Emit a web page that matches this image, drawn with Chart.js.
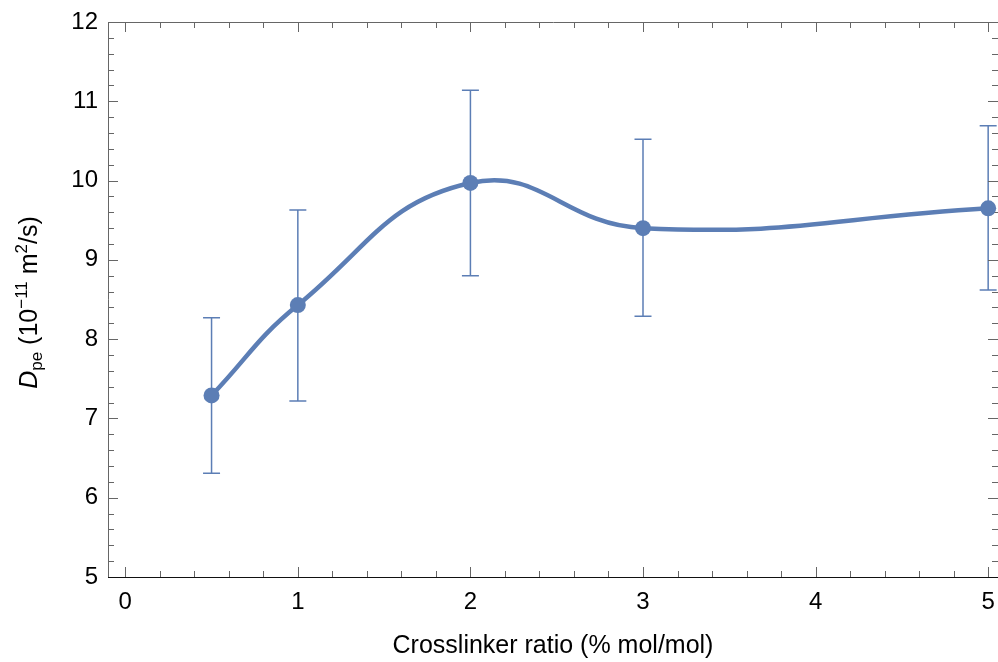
<!DOCTYPE html>
<html lang="en">
<head>
<meta charset="UTF-8">
<title>Dpe vs crosslinker ratio</title>
<script src="https://cdn.jsdelivr.net/npm/chart.js"></script>
<style>
  body { margin: 0; background: #fff; }
  #wrap { width: 998px; height: 662px; }
</style>
</head>
<body>
<div id="wrap"><canvas id="myChart"></canvas></div>

<script>
  // values
  const ratio = [0.5, 1, 2, 3, 5];
  const dpe = [7.29, 8.43, 9.97, 9.40, 9.65];
  const errHigh = [8.27, 9.63, 11.14, 10.52, 10.69];
  const errLow = [6.31, 7.22, 8.80, 8.29, 8.62];
  const xTicks = [0, 1, 2, 3, 4, 5];
  const yTicks = [5, 6, 7, 8, 9, 10, 11, 12];

  const blue = 'rgb(92,126,181)';
  const font = "'Liberation Sans', Arial, sans-serif";

  // error bars, drawn under the line
  const errorBars = {
    id: 'errorBars',
    beforeDatasetsDraw(chart) {
      const { ctx, scales: { x, y } } = chart;
      ctx.save();
      ctx.strokeStyle = blue;
      ctx.lineWidth = 1.5;
      ratio.forEach((r, i) => {
        const px = x.getPixelForValue(r);
        const hi = y.getPixelForValue(errHigh[i]);
        const lo = y.getPixelForValue(errLow[i]);
        ctx.beginPath();
        ctx.moveTo(px, hi); ctx.lineTo(px, lo);
        ctx.moveTo(px - 8.5, hi); ctx.lineTo(px + 8.5, hi);
        ctx.moveTo(px - 8.5, lo); ctx.lineTo(px + 8.5, lo);
        ctx.stroke();
      });
      ctx.restore();
    }
  };

  // frame with inward major/minor ticks on all four sides
  const frame = {
    id: 'frame',
    beforeDatasetsDraw(chart) {
      const { ctx, chartArea: a, scales: { x, y } } = chart;
      ctx.save();
      ctx.lineWidth = 1;
      ctx.strokeStyle = '#666';
      ctx.beginPath();
      for (let i = Math.ceil(x.min * 5); i <= Math.floor(x.max * 5); i++) {
        const len = i % 5 === 0 ? 10 : 6;
        const px = Math.round(x.getPixelForValue(i / 5)) + 0.5;
        ctx.moveTo(px, a.bottom); ctx.lineTo(px, a.bottom - len);
        ctx.moveTo(px, a.top); ctx.lineTo(px, a.top + len);
      }
      for (let i = Math.ceil(y.min * 5); i <= Math.floor(y.max * 5); i++) {
        const len = i % 5 === 0 ? 10 : 6;
        const py = Math.round(y.getPixelForValue(i / 5)) + 0.5;
        ctx.moveTo(a.left, py); ctx.lineTo(a.left + len, py);
        ctx.moveTo(a.right, py); ctx.lineTo(a.right - len, py);
      }
      ctx.stroke();

      // right edge of the frame sits just past the canvas, as in the figure
      ctx.beginPath();
      ctx.moveTo(a.left + 0.5, a.bottom); ctx.lineTo(a.left + 0.5, a.top + 0.5);
      ctx.lineTo(a.right + 0.5, a.top + 0.5); ctx.lineTo(a.right + 0.5, a.bottom);
      ctx.stroke();
      ctx.strokeStyle = '#111';
      ctx.beginPath();
      ctx.moveTo(a.left, a.bottom + 0.5); ctx.lineTo(a.right, a.bottom + 0.5);
      ctx.stroke();
      ctx.restore();
    }
  };

  // y title with italic D, subscript and superscripts
  const yTitle = {
    id: 'yTitle',
    afterDraw(chart) {
      const ctx = chart.ctx;
      const parts = [
        { t: 'D', size: 25, style: 'italic ', dy: 0 },
        { t: 'pe', size: 17, dy: 5 },
        { t: ' (10', size: 25, dy: 0 },
        { t: '\u221211', size: 17, dy: -10 },
        { t: ' m', size: 25, dy: 0 },
        { t: '2', size: 17, dy: -10 },
        { t: '/s)', size: 25, dy: 0 }
      ];
      ctx.save();
      let w = 0;
      parts.forEach(p => {
        ctx.font = (p.style || '') + p.size + 'px ' + font;
        p.w = ctx.measureText(p.t).width;
        w += p.w;
      });
      const cy = (chart.chartArea.top + chart.chartArea.bottom) / 2 + 3;
      ctx.translate(37, cy);
      ctx.rotate(-Math.PI / 2);
      ctx.fillStyle = '#000';
      ctx.textAlign = 'left';
      ctx.textBaseline = 'alphabetic';
      let cx = -w / 2;
      parts.forEach(p => {
        ctx.font = (p.style || '') + p.size + 'px ' + font;
        ctx.fillText(p.t, cx, p.dy);
        cx += p.w;
      });
      ctx.restore();
    }
  };

  const ctx = document.getElementById('myChart');

  new Chart(ctx, {
    type: 'scatter',
    data: {
      datasets: [{
        label: 'Dpe',
        data: ratio.map((r, i) => ({ x: r, y: dpe[i] })),
        showLine: true,
        tension: 0.45,
        borderColor: blue,
        borderWidth: 4.5,
        backgroundColor: blue,
        pointRadius: 8,
        pointHoverRadius: 8,
        pointBorderWidth: 0,
        clip: false
      }]
    },
    options: {
      responsive: true,
      maintainAspectRatio: false,
      animation: false,
      layout: { autoPadding: false, padding: { top: 22, right: 0, left: 0, bottom: 0 } },
      plugins: {
        legend: { display: false },
        tooltip: { enabled: false }
      },
      scales: {
        x: {
          type: 'linear',
          min: -0.1,
          max: 5.057,
          afterBuildTicks: (scale) => { scale.ticks = xTicks.map(v => ({ value: v })); },
          afterFit: (scale) => {
            scale.height = 85;
            scale.paddingLeft = 0;
            scale.paddingRight = 0;
          },
          grid: { display: false, drawTicks: false },
          border: { display: false },
          ticks: { color: '#000', padding: 11, font: { family: font, size: 24 } },
          title: {
            display: true,
            text: 'Crosslinker ratio (% mol/mol)',
            color: '#000',
            font: { family: font, size: 25 },
            padding: { top: 0, bottom: 1 }
          }
        },
        y: {
          type: 'linear',
          min: 5,
          max: 12,
          afterBuildTicks: (scale) => { scale.ticks = yTicks.map(v => ({ value: v })); },
          afterFit: (scale) => {
            scale.width = 108;
            scale.paddingTop = 0;
            scale.paddingBottom = 0;
          },
          grid: { display: false, drawTicks: false },
          border: { display: false },
          ticks: { color: '#000', padding: 10, font: { family: font, size: 24 } }
        }
      }
    },
    plugins: [errorBars, frame, yTitle]
  });
</script>
</body>
</html>
